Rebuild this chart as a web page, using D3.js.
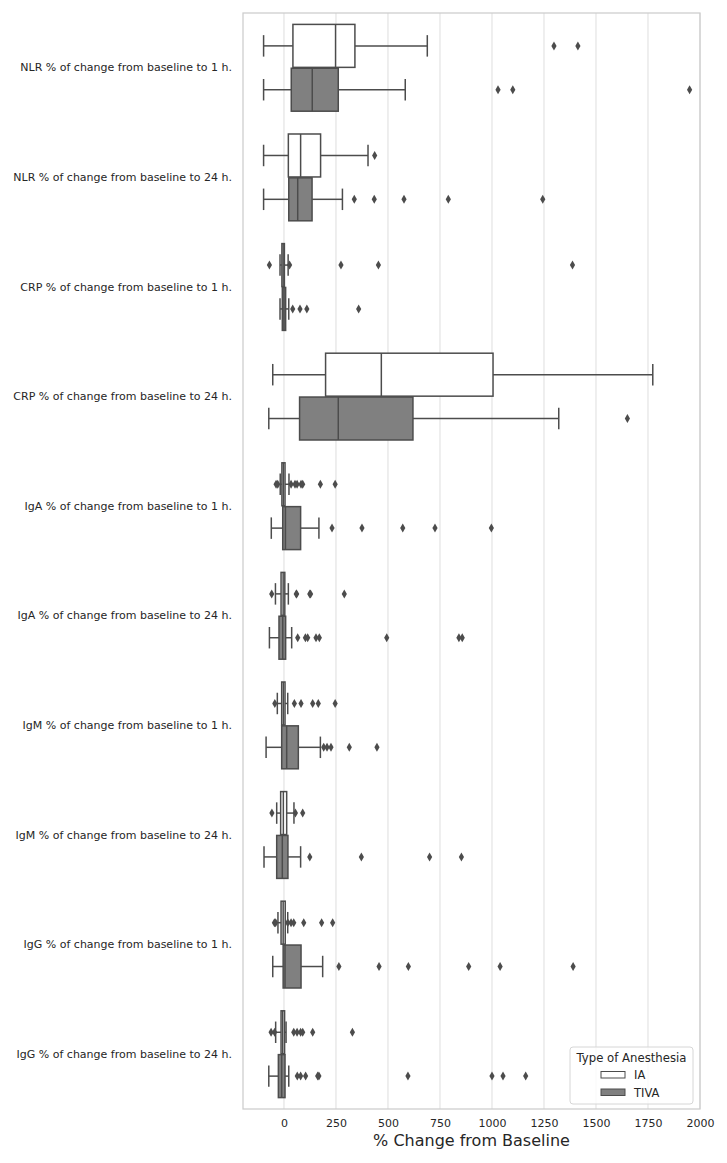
<!DOCTYPE html>
<html>
<head>
<meta charset="utf-8">
<script src="https://cdn.jsdelivr.net/npm/d3@7"></script>
<style>
  body { margin: 0; background: #fff; }
  text { font-family: "DejaVu Sans", sans-serif; fill: #262626; }
</style>
</head>
<body>
<div id="chart"></div>
<script>
// Data
var categories = [
  "NLR % of change from baseline to 1 h.",
  "NLR % of change from baseline to 24 h.",
  "CRP % of change from baseline to 1 h.",
  "CRP % of change from baseline to 24 h.",
  "IgA % of change from baseline to 1 h.",
  "IgA % of change from baseline to 24 h.",
  "IgM % of change from baseline to 1 h.",
  "IgM % of change from baseline to 24 h.",
  "IgG % of change from baseline to 1 h.",
  "IgG % of change from baseline to 24 h."
];
var groups = ["IA", "TIVA"];

// [whisker low, q1, median, q3, whisker high]
var iaStats = [
  [-98, 43, 248, 341, 689],
  [-98, 21, 80, 176, 404],
  [-19, -10, -4, 2, 20],
  [-54, 200, 468, 1005, 1773],
  [-18, -10, -3, 5, 24],
  [-41, -14, -4, 4, 21],
  [-32, -11, -3, 5, 18],
  [-35, -16, -3, 13, 48],
  [-29, -14, -4, 6, 18],
  [-40, -14, -6, 3, 10]
];
var tivaStats = [
  [-98, 35, 136, 261, 583],
  [-98, 23, 66, 135, 281],
  [-19, -8, 0, 8, 23],
  [-73, 75, 261, 620, 1321],
  [-61, -6, 7, 80, 168],
  [-70, -24, -6, 8, 37],
  [-86, -11, 13, 69, 175],
  [-96, -35, -8, 19, 80],
  [-54, -4, 5, 82, 186],
  [-73, -27, -11, 5, 23]
];
var iaOutliers = [
  [1298, 1413],
  [436],
  [-70, 27, 274, 454, 1387],
  [],
  [-38, -30, 34, 53, 63, 82, 90, 175, 246],
  [-59, 59, 61, 124, 128, 290],
  [-44, 50, 82, 138, 165, 246],
  [-58, 55, 90],
  [-46, -40, 18, 34, 47, 95, 181, 234],
  [-62, -45, 47, 63, 80, 90, 138, 329]
];
var tivaOutliers = [
  [1029, 1100, 1950],
  [338, 434, 577, 790, 1244],
  [42, 77, 110, 359],
  [1651],
  [231, 375, 571, 726, 997],
  [66, 103, 114, 154, 170, 494, 841, 857],
  [191, 207, 226, 314, 447],
  [124, 372, 700, 853],
  [264, 457, 598, 888, 1039, 1390],
  [64, 80, 104, 162, 168, 596, 1000, 1053, 1162]
];
var xTicks = [0, 250, 500, 750, 1000, 1250, 1500, 1750, 2000];

// Set up space
var svgWidth = 727;
var svgHeight = 1163;
var margin = { top: 13, right: 27, bottom: 54, left: 243 };
var width = svgWidth - margin.left - margin.right;
var height = svgHeight - margin.top - margin.bottom;

var svg = d3.select("#chart")
  .append("svg")
  .attr("width", svgWidth)
  .attr("height", svgHeight);

var chartGroup = svg.append("g")
  .attr("transform", `translate(${margin.left}, ${margin.top})`);

var lineColor = "#4c4c4c";
var fills = { IA: "#ffffff", TIVA: "#808080" };

// Scales
var xScale = d3.scaleLinear().domain([-197, 2000]).range([0, width]);
var yScale = d3.scaleBand().domain(categories).range([0, height]).padding(0);
var hueScale = d3.scaleBand().domain(groups).range([-0.4, 0.4]);

// Grid
chartGroup.append("g")
  .selectAll("line")
  .data(xTicks)
  .enter()
  .append("line")
    .attr("x1", d => xScale(d))
    .attr("x2", d => xScale(d))
    .attr("y1", 0)
    .attr("y2", height)
    .attr("stroke", "#dedede")
    .attr("stroke-width", 1);

// Boxes
var rows = [];
categories.forEach(function(c, i) {
  rows.push({ cat: c, group: "IA", s: iaStats[i], out: iaOutliers[i] });
  rows.push({ cat: c, group: "TIVA", s: tivaStats[i], out: tivaOutliers[i] });
});

var bw = yScale.bandwidth();
var boxH = hueScale.bandwidth() * bw * 0.98;

var boxGroup = chartGroup.selectAll(".box")
  .data(rows)
  .enter()
  .append("g")
  .attr("class", "box")
  .attr("transform", d => {
    var cy = yScale(d.cat) + bw / 2 + (hueScale(d.group) + hueScale.bandwidth() / 2) * bw;
    return `translate(0, ${cy})`;
  });

// whiskers
boxGroup.append("line")
  .attr("x1", d => xScale(d.s[0]))
  .attr("x2", d => xScale(d.s[1]))
  .attr("stroke", lineColor).attr("stroke-width", 1.5);
boxGroup.append("line")
  .attr("x1", d => xScale(d.s[3]))
  .attr("x2", d => xScale(d.s[4]))
  .attr("stroke", lineColor).attr("stroke-width", 1.5);
// caps
[0, 4].forEach(function(k) {
  boxGroup.append("line")
    .attr("x1", d => xScale(d.s[k]))
    .attr("x2", d => xScale(d.s[k]))
    .attr("y1", -boxH / 4)
    .attr("y2", boxH / 4)
    .attr("stroke", lineColor).attr("stroke-width", 1.5);
});
// box
boxGroup.append("rect")
  .attr("x", d => xScale(d.s[1]))
  .attr("width", d => xScale(d.s[3]) - xScale(d.s[1]))
  .attr("y", -boxH / 2)
  .attr("height", boxH)
  .attr("fill", d => fills[d.group])
  .attr("stroke", lineColor)
  .attr("stroke-width", 1.5);
// median
boxGroup.append("line")
  .attr("x1", d => xScale(d.s[2]))
  .attr("x2", d => xScale(d.s[2]))
  .attr("y1", -boxH / 2)
  .attr("y2", boxH / 2)
  .attr("stroke", lineColor).attr("stroke-width", 1.5);
// fliers
boxGroup.selectAll(".flier")
  .data(d => d.out)
  .enter()
  .append("path")
    .attr("class", "flier")
    .attr("d", "M0,-4.5L2.6,0L0,4.5L-2.6,0Z")
    .attr("transform", d => `translate(${xScale(d)}, 0)`)
    .attr("fill", lineColor);

// Frame
chartGroup.append("rect")
  .attr("x", 0).attr("y", 0)
  .attr("width", width).attr("height", height)
  .attr("fill", "none")
  .attr("stroke", "#cccccc")
  .attr("stroke-width", 1.25);

// Axes
var bottomAxis = d3.axisBottom(xScale)
  .tickValues(xTicks)
  .tickFormat(d3.format("d"))
  .tickSize(0)
  .tickPadding(10);
var xAxisG = chartGroup.append("g")
  .attr("transform", `translate(0, ${height})`)
  .call(bottomAxis);
xAxisG.select(".domain").remove();
xAxisG.selectAll("text")
  .style("font-family", "DejaVu Sans")
  .style("font-size", "11px")
  .attr("fill", "#262626");

var leftAxis = d3.axisLeft(yScale).tickSize(0).tickPadding(11);
var yAxisG = chartGroup.append("g").call(leftAxis);
yAxisG.select(".domain").remove();
yAxisG.selectAll("text")
  .style("font-family", "DejaVu Sans")
  .style("font-size", "11px")
  .attr("fill", "#262626");

// Axis label
chartGroup.append("text")
  .attr("x", width / 2)
  .attr("y", height + 37)
  .attr("text-anchor", "middle")
  .style("font-size", "16px")
  .text("% Change from Baseline");

// Legend
var legend = svg.append("g").attr("transform", "translate(570, 1047)");
legend.append("rect")
  .attr("width", 123).attr("height", 57)
  .attr("rx", 3)
  .attr("fill", "#ffffff").attr("fill-opacity", 0.8)
  .attr("stroke", "#d6d6d6");
legend.append("text")
  .attr("x", 61.5).attr("y", 14.5)
  .attr("text-anchor", "middle")
  .style("font-size", "11.7px")
  .text("Type of Anesthesia");
groups.forEach(function(g, i) {
  legend.append("rect")
    .attr("x", 31).attr("y", 24.5 + i * 17.5)
    .attr("width", 24).attr("height", 6.5)
    .attr("fill", fills[g])
    .attr("stroke", lineColor).attr("stroke-width", 1);
  legend.append("text")
    .attr("x", 64).attr("y", 32 + i * 17.5)
    .style("font-size", "11.5px")
    .text(g);
});
</script>
</body>
</html>
